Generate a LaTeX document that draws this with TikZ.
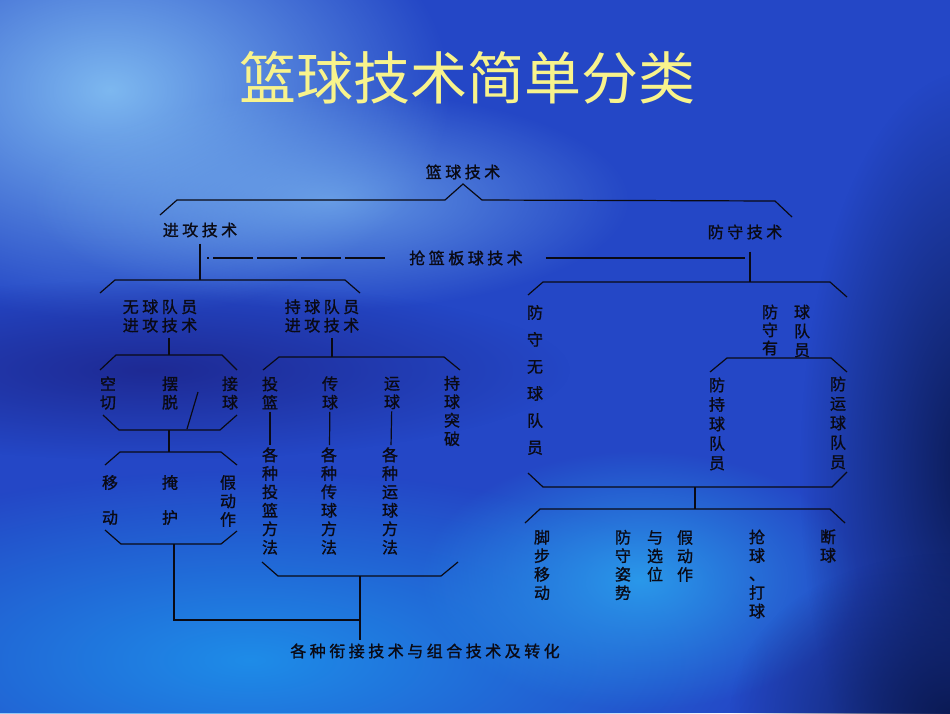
\documentclass[tikz,border=0pt]{standalone}
\usepackage{fontspec}
\newfontfamily\cjk{Noto Sans CJK SC}
\newfontfamily\cjkink{Noto Sans CJK SC}[FakeBold=1.2]
\usetikzlibrary{fadings}

\definecolor{slidebase}{HTML}{2447C6}
\definecolor{skylight}{HTML}{7DB8F0}
\definecolor{bandviolet}{HTML}{1E2A94}
\definecolor{lowcyan}{HTML}{1E8CE8}
\definecolor{midcyan}{HTML}{2A98EA}
\definecolor{deepnavy}{HTML}{0B1A55}
\definecolor{titleyellow}{HTML}{F8F38C}
\definecolor{inkblack}{HTML}{0A0A14}

\tikzfading[name=glow, inner color=transparent!0, outer color=transparent!100]

% spread CJK letters a bit, like the scanned chart
\newcommand{\spread}[1]{\spreadloop#1\relax}
\def\spreadloop#1{\ifx#1\relax\kern-3.5pt\else#1\kern3.5pt\expandafter\spreadloop\fi}

\begin{document}
\begin{tikzpicture}
[every node/.style={inner sep=0pt},
 lbl/.style={font=\cjkink\fontsize{16pt}{18.5pt}\selectfont, text=inkblack, align=center},
 col/.style={lbl, font=\cjkink\fontsize{16pt}{#1}\selectfont},
 col/.default=18.5pt,
 brk/.style={line width=1.2pt, color=inkblack},
 brkdash/.style={brk, dash pattern=on 40pt off 4pt}]
\useasboundingbox (0pt,0pt) rectangle (950pt,-713pt);

% slide background
\begin{scope}
\clip (0pt,0pt) rectangle (950pt,-713pt);
\fill [slidebase] (0pt,0pt) rectangle (950pt,-713pt);
\fill [skylight, path fading=glow] (110pt,-90pt) ellipse (340pt and 230pt);
\fill [skylight, path fading=glow, opacity=0.7] (330pt,-200pt) ellipse (300pt and 110pt);
\fill [bandviolet, path fading=glow] (150pt,-370pt) ellipse (420pt and 90pt);
\fill [lowcyan, path fading=glow] (250pt,-660pt) ellipse (520pt and 190pt);
\fill [midcyan, path fading=glow] (640pt,-580pt) ellipse (220pt and 130pt);
\fill [deepnavy, path fading=glow] (970pt,-470pt) ellipse (170pt and 400pt);
\fill [deepnavy, path fading=glow] (950pt,-713pt) ellipse (220pt and 160pt);
\end{scope}

\node (title) [font=\cjk\fontsize{57pt}{60pt}\selectfont, text=titleyellow] at (467pt, -78pt) {篮球技术简单分类};

% top level
\node (root) [lbl] at (463pt, -172pt) {\spread{篮球技术}};
\node (atk) [lbl] at (200pt, -230pt) {\spread{进攻技术}};
\node (dfn) [lbl] at (745pt, -232pt) {\spread{防守技术}};
\node (reb) [lbl] at (466pt, -258pt) {\spread{抢篮板球技术}};
\coordinate (atkj) at (200pt, -280pt);
\coordinate (dfnj) at (750pt, -282pt);

% attack side
\node (offb) [lbl] at (160pt, -316pt) {\spread{无球队员}\\\spread{进攻技术}};
\node (onb) [lbl] at (322pt, -316pt) {\spread{持球队员}\\\spread{进攻技术}};
\coordinate (offbj) at (169pt, -355pt);
\coordinate (onbj) at (332pt, -357pt);
\node (qq) [col] at (108pt, -393pt) {空\\切};
\node (bt) [col] at (170pt, -393pt) {摆\\脱};
\node (jq) [col] at (230pt, -393pt) {接\\球};
\coordinate (g1b) at (169pt, -430pt);
\coordinate (g2t) at (169pt, -452pt);
\node (yd) [col=35pt] at (110pt, -500pt) {移\\动};
\node (yh) [col=35pt] at (170pt, -500pt) {掩\\护};
\node (jd) [col] at (228pt, -501pt) {假\\动\\作};
\coordinate (g2b) at (174pt, -544pt);
\node (tl) [col] at (270pt, -393pt) {投\\篮};
\node (cq) [col] at (330pt, -393pt) {传\\球};
\node (yq) [col] at (392pt, -393pt) {运\\球};
\node (tp) [col] at (452pt, -411pt) {持\\球\\突\\破};
\node (tlm) [col] at (270pt, -501pt) {各\\种\\投\\篮\\方\\法};
\node (cqm) [col] at (329pt, -501pt) {各\\种\\传\\球\\方\\法};
\node (yqm) [col] at (390pt, -501pt) {各\\种\\运\\球\\方\\法};
\coordinate (onbb) at (360pt, -576pt);
\coordinate (merge) at (360pt, -620pt);
\node (all) [lbl] at (425pt, -651pt) {\spread{各种衔接技术与组合技术及转化}};

% defence side
\node (fwq) [col=27pt] at (535pt, -380pt) {防\\守\\无\\球\\队\\员};
\node (fyq1) [col=18pt] at (770pt, -330pt) {防\\守\\有};
\node (fyq2) [col=19pt] at (802pt, -331pt) {球\\队\\员};
\node (fcq) [col=19.5pt] at (717pt, -424pt) {防\\持\\球\\队\\员};
\node (fyun) [col=19.5pt] at (838pt, -423pt) {防\\运\\球\\队\\员};
\coordinate (dfnb) at (695pt, -487pt);
\coordinate (dfnt) at (695pt, -509pt);
\node (jbyd) [col] at (542pt, -565pt) {脚\\步\\移\\动};
\node (fszs) [col] at (623pt, -565pt) {防\\守\\姿\\势};
\node (yxw) [col] at (655pt, -556pt) {与\\选\\位};
\node (jdz) [col] at (685pt, -556pt) {假\\动\\作};
\node (qdq) [col] at (757pt, -574pt) {抢\\球\\、\\打\\球};
\node (dq) [col] at (828pt, -546pt) {断\\球};

% brackets
\draw [brk] (160pt,-215pt) -- (177pt,-200pt) -- (445pt,-200pt) -- (463pt,-184pt) -- (482pt,-200pt) -- (775pt,-201pt) -- (792pt,-217pt);
\draw [brk] (100pt,-293pt) -- (115pt,-280pt) -- (345pt,-280pt) -- (360pt,-293pt);
\draw [brk] (100pt,-370pt) -- (116pt,-355pt) -- (222pt,-355pt) -- (237pt,-370pt);
\draw [brk] (103pt,-415pt) -- (119pt,-430pt) -- (220pt,-430pt) -- (237pt,-415pt);
\draw [brk] (198pt,-392pt) -- (187pt,-429pt);
\draw [brk] (105pt,-465pt) -- (120pt,-452pt) -- (221pt,-452pt) -- (237pt,-465pt);
\draw [brk] (105pt,-530pt) -- (121pt,-544pt) -- (221pt,-544pt) -- (237pt,-531pt);
\draw [brk] (263pt,-370pt) -- (279pt,-357pt) -- (444pt,-357pt) -- (460pt,-370pt);
\draw [brk] (262pt,-562pt) -- (278pt,-576pt) -- (441pt,-576pt) -- (458pt,-562pt);
\draw [brk] (528pt,-295pt) -- (543pt,-282pt) -- (830pt,-282pt) -- (847pt,-297pt);
\draw [brk] (710pt,-372pt) -- (727pt,-358pt) -- (831pt,-358pt) -- (847pt,-372pt);
\draw [brk] (528pt,-473pt) -- (543pt,-487pt) -- (832pt,-487pt) -- (847pt,-472pt);
\draw [brk] (525pt,-523pt) -- (540pt,-509pt) -- (830pt,-509pt) -- (845pt,-523pt);

% links
\draw [brk, shorten <=6pt] (atk.south) to (atkj);
\draw [brk, shorten <=12pt] (dfnj |- dfn.south) to (dfnj);
\draw [brkdash, shorten <=24pt, shorten >=7pt] (reb.west) to (atkj |- reb.west);
\draw [brk, shorten <=23pt, shorten >=5pt] (reb.east) to (dfnj |- reb.east);
\draw [brk, shorten <=5pt] (offbj |- offb.south) to (offbj);
\draw [brk, shorten <=5pt] (onbj |- onb.south) to (onbj);
\draw [brk] (g1b) to (g2t);
\draw [brk, shorten <=2pt, shorten >=2pt] (tl) to (tlm);
\draw [brk, shorten <=2pt, shorten >=2pt] (cq) to (cqm);
\draw [brk, shorten <=2pt, shorten >=2pt] (yq) to (yqm);
\draw [brk] (g2b) -- (g2b |- merge) -- (merge);
\draw [brk, shorten >=3pt] (onbb) -- (merge) -- (merge |- all.north);
\draw [brk] (dfnb) to (dfnt);
\end{tikzpicture}
\end{document}
